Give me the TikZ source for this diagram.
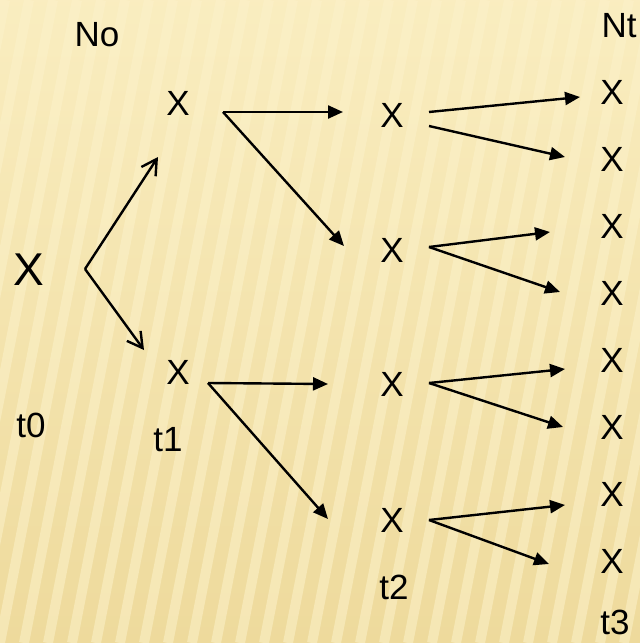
\documentclass[tikz,border=0pt]{standalone}
\usepackage{fontspec}
\setmainfont{Liberation Sans}
\usetikzlibrary{arrows.meta,calc}
\definecolor{paper}{RGB}{246,230,176}
\definecolor{paperlight}{RGB}{252,242,202}
\definecolor{paperdark}{RGB}{238,218,156}

\begin{document}
\begin{tikzpicture}[x=1pt,y=-1pt,
  lbl/.style={inner sep=0pt,font=\fontsize{35}{35}\selectfont},
  big/.style={inner sep=0pt,font=\fontsize{46}{46}\selectfont},
  tip/.style={-{Triangle[length=15pt,width=13pt]},line width=2.4pt},
  vee/.style={-{Straight Barb[length=15pt,width=17pt]},line width=2.4pt}]
% background
\useasboundingbox (0,0) rectangle (640,643);
\shade[top color=paperlight!60!paper,bottom color=paperdark] (0,0) rectangle (640,643);
\begin{scope}
\clip (0,0) rectangle (640,643);
\foreach \i in {-8,...,30}{\draw[paperlight,line width=10pt,opacity=0.55] (\i*24,643) -- (\i*24+125,0);}
\end{scope}
% nodes
\node[big] (a) at (29,270) {X};
\node[lbl] (b1) at (178,103) {X};
\node[lbl] (b2) at (178,372) {X};
\node[lbl] (c1) at (392,115) {X};
\node[lbl] (c2) at (392,250) {X};
\node[lbl] (c3) at (392,384) {X};
\node[lbl] (c4) at (392,520) {X};
\foreach \i in {1,...,8}{\node[lbl] (d\i) at (612,{92+67*(\i-1)}) {X};}
% labels
\node[lbl] (no) at (97,35) {No};
\node[lbl] (nt) at (619,26) {Nt};
\node[lbl] (t0) at (31,425) {t0};
\node[lbl] (t1) at (168,440) {t1};
\node[lbl] (t2) at (394,587) {t2};
\node[lbl] (t3) at (615,622) {t3};
% arrows
\draw[vee] ($(a)+(56,-1)$) -- ($(b1)+(-20,54)$);
\draw[vee] ($(a)+(56,-1)$) -- ($(b2)+(-34,-22)$);
\draw[tip] ($(b1)+(45,9)$) -- ($(c1)+(-49,-3)$);
\draw[tip] ($(b1)+(45,9)$) -- ($(c2)+(-48,-4)$);
\draw[tip] ($(b2)+(30,11)$) -- ($(c3)+(-64,0)$);
\draw[tip] ($(b2)+(30,11)$) -- ($(c4)+(-64,-1)$);
\draw[tip] ($(c1)+(37,-3)$) -- ($(d1)+(-32,5)$);
\draw[tip] ($(c1)+(37,11)$) -- ($(d2)+(-47,-2)$);
\draw[tip] ($(c2)+(37,-3)$) -- ($(d3)+(-62,6)$);
\draw[tip] ($(c2)+(37,-3)$) -- ($(d4)+(-52,-1)$);
\draw[tip] ($(c3)+(37,-1)$) -- ($(d5)+(-47,9)$);
\draw[tip] ($(c3)+(37,-1)$) -- ($(d6)+(-49,0)$);
\draw[tip] ($(c4)+(37,0)$) -- ($(d7)+(-47,11)$);
\draw[tip] ($(c4)+(37,0)$) -- ($(d8)+(-63,3)$);
\end{tikzpicture}
\end{document}
